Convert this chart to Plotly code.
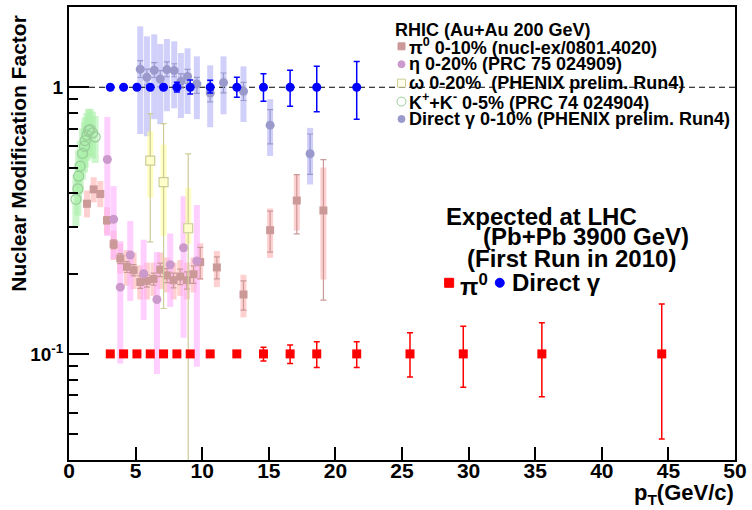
import plotly.graph_objects as go

X_RANGE = [0, 50]
Y_RANGE = [0.04, 2.0]
REF_LEVEL = 1.0

# ---------------- Expected at LHC ----------------
lhc_gamma_x = [3.1, 4.1, 5.1, 6.1, 7.1, 8.1, 9.1, 10.6, 12.6, 14.6, 16.6, 18.6, 21.6]
lhc_gamma_y = [1, 1, 1, 1, 1, 1, 1, 1, 1, 1, 1, 1, 1]
lhc_gamma_ep = [0, 0, 0, 0, 0, 0.044, 0.065, 0.062, 0.09, 0.125, 0.158, 0.2, 0.248]
lhc_gamma_em = [0, 0, 0, 0, 0, 0.04, 0.056, 0.048, 0.083, 0.114, 0.151, 0.19, 0.241]

lhc_pi0_x = [3.1, 4.1, 5.1, 6.1, 7.1, 8.1, 9.1, 10.6, 12.6, 14.6, 16.6, 18.6, 21.6, 25.6, 29.6, 35.5, 44.5]
lhc_pi0_y = [0.1] * 17
lhc_pi0_ep = [0, 0, 0, 0, 0, 0, 0, 0, 0, 0.006, 0.008, 0.011, 0.011, 0.02, 0.027, 0.031, 0.054]
lhc_pi0_em = [0, 0, 0, 0, 0, 0, 0, 0, 0, 0.006, 0.008, 0.011, 0.011, 0.018, 0.025, 0.031, 0.052]

# ---------------- RHIC pi0 0-10% ----------------
pi0_x = [1.35, 1.85, 2.35, 2.85, 3.35, 3.85, 4.35, 4.85, 5.35, 5.85, 6.35, 6.85, 7.35, 7.85,
         8.35, 8.85, 9.35, 9.85, 11.1, 13.1, 15.1, 17.1, 19.1]
pi0_y = [0.366, 0.414, 0.398, 0.317, 0.258, 0.228, 0.212, 0.206, 0.186, 0.188, 0.191, 0.207, 0.197, 0.189,
         0.195, 0.189, 0.199, 0.221, 0.211, 0.167, 0.291, 0.376, 0.345]
pi0_sys_hi = [0.41, 0.46, 0.445, 0.355, 0.29, 0.26, 0.245, 0.24, 0.215, 0.22, 0.22, 0.24, 0.23, 0.22,
              0.225, 0.22, 0.23, 0.26, 0.243, 0.198, 0.351, 0.47, 0.50]
pi0_sys_lo = [0.325, 0.37, 0.355, 0.28, 0.225, 0.2, 0.18, 0.175, 0.16, 0.16, 0.165, 0.175, 0.17, 0.16,
              0.165, 0.16, 0.17, 0.19, 0.178, 0.137, 0.229, 0.29, 0.19]
pi0_ep = [0.01, 0.01, 0.01, 0.01, 0.01, 0.01, 0.01, 0.01, 0.01, 0.01, 0.01, 0.012, 0.012, 0.012,
          0.013, 0.014, 0.015, 0.03, 0.02, 0.021, 0.052, 0.094, 0.19]
pi0_em = [0.01, 0.01, 0.01, 0.01, 0.01, 0.01, 0.01, 0.01, 0.01, 0.01, 0.01, 0.012, 0.012, 0.012,
          0.013, 0.014, 0.015, 0.03, 0.02, 0.021, 0.05, 0.094, 0.186]

# ---------------- RHIC eta 0-20% ----------------
eta_x = [2.88, 3.35, 3.85, 4.6, 5.6, 6.6, 7.6, 8.6, 9.6]
eta_y = [0.536, 0.320, 0.178, 0.235, 0.200, 0.160, 0.216, 0.250, 0.223]
eta_sys_hi = [0.774, 0.426, 0.265, 0.315, 0.268, 0.241, 0.283, 0.39, 0.362]
eta_sys_lo = [0.277, 0.227, 0.092, 0.158, 0.134, 0.084, 0.150, 0.115, 0.0894]

# ---------------- RHIC omega 0-20% ----------------
omega_x = [6.1, 7.1, 8.95]
omega_y = [0.531, 0.441, 0.296]
omega_ep = [0.266, 0.29, 0.267]
omega_em = [0.268, 0.293, 0.295]
omega_sys_hi = [0.684, 0.61, 0.42]
omega_sys_lo = [0.385, 0.277, 0.258]

# ---------------- RHIC K+ + K- 0-5% ----------------
k_x = [0.52, 0.67, 0.72, 0.84, 1.02, 1.17, 1.21, 1.34, 1.47, 1.59, 1.77, 1.96]
k_y = [0.380, 0.416, 0.464, 0.506, 0.565, 0.601, 0.631, 0.661, 0.689, 0.694, 0.674, 0.651]
k_sys_hi = [0.47, 0.52, 0.58, 0.63, 0.70, 0.74, 0.77, 0.80, 0.83, 0.83, 0.81, 0.78]
k_sys_lo = [0.30, 0.33, 0.37, 0.40, 0.45, 0.48, 0.50, 0.53, 0.55, 0.55, 0.54, 0.52]

# ---------------- RHIC direct gamma 0-10% ----------------
g_x = [5.35, 5.85, 6.4, 6.85, 7.35, 7.9, 8.4, 8.9, 9.6, 10.6, 11.6, 13.1, 15.1, 18.1]
g_y = [1.168, 1.090, 1.158, 1.074, 1.165, 1.155, 1.053, 1.097, 1.029, 0.952, 1.041, 0.966, 0.721, 0.563]
g_sys_hi = [1.692, 1.553, 1.58, 1.453, 1.517, 1.487, 1.344, 1.40, 1.306, 1.209, 1.306, 1.198, 0.902, 0.704]
g_sys_lo = [0.668, 0.655, 0.759, 0.727, 0.813, 0.834, 0.767, 0.794, 0.759, 0.708, 0.792, 0.741, 0.552, 0.432]
g_ep = [0.09, 0.08, 0.08, 0.08, 0.08, 0.07, 0.07, 0.07, 0.06, 0.05, 0.09, 0.078, 0.104, 0.105]
g_em = [0.08, 0.07, 0.07, 0.07, 0.07, 0.06, 0.06, 0.06, 0.08, 0.07, 0.089, 0.074, 0.108, 0.092]

X_TICKS = [0, 5, 10, 15, 20, 25, 30, 35, 40, 45, 50]
Y_TICKS = [0.1, 1]
Y_TICK_TEXT = ["10<sup>-1</sup>", "1"]
Y_MINOR = [0.04, 0.05, 0.06, 0.07, 0.08, 0.09, 0.2, 0.3, 0.4, 0.5, 0.6, 0.7, 0.8, 0.9, 2]

FONT = "Liberation Sans"

# colours
C_PI0 = "#cc9999"; C_PI0_SYS = "rgba(255,170,170,0.55)"
C_ETA = "#cc99cc"; C_ETA_SYS = "rgba(255,175,255,0.6)"
C_OM = "#cccc99"; C_OM_SYS = "rgba(255,255,150,0.6)"
C_K = "#99cc99"; C_K_SYS = "rgba(170,240,170,0.6)"
C_G = "#9999cc"; C_G_SYS = "rgba(170,170,245,0.55)"


def segs(xs, lo, hi):
    X, Y = [], []
    for x, l, h in zip(xs, lo, hi):
        X += [x, x, None]
        Y += [l, h, None]
    return X, Y


fig = go.Figure()

# systematic boxes
for xs, lo, hi, col, w in [
    (k_x, k_sys_lo, k_sys_hi, C_K_SYS, 7),
    (g_x, g_sys_lo, g_sys_hi, C_G_SYS, 6),
    (pi0_x, pi0_sys_lo, pi0_sys_hi, C_PI0_SYS, 6),
    (eta_x, eta_sys_lo, eta_sys_hi, C_ETA_SYS, 6),
    (omega_x, omega_sys_lo, omega_sys_hi, C_OM_SYS, 6),
]:
    X, Y = segs(xs, lo, hi)
    fig.add_trace(go.Scatter(x=X, y=Y, mode="lines", line=dict(color=col, width=w),
                             hoverinfo="skip", showlegend=False))

# reference dashed line
fig.add_trace(go.Scatter(x=X_RANGE, y=[REF_LEVEL, REF_LEVEL], mode="lines",
                         line=dict(color="black", width=1.2, dash="6px,4px"),
                         hoverinfo="skip", showlegend=False))

# RHIC markers
fig.add_trace(go.Scatter(x=k_x, y=k_y, mode="markers",
                         marker=dict(symbol="circle-open", size=10, color=C_K, line=dict(width=1.2)),
                         showlegend=False))
fig.add_trace(go.Scatter(x=g_x, y=g_y, mode="markers",
                         error_y=dict(type="data", array=g_ep, arrayminus=g_em, color=C_G, thickness=1.2, width=3),
                         marker=dict(symbol="circle", size=9, color=C_G), showlegend=False))
fig.add_trace(go.Scatter(x=pi0_x, y=pi0_y, mode="markers",
                         error_y=dict(type="data", array=pi0_ep, arrayminus=pi0_em, color=C_PI0, thickness=1.2, width=3),
                         marker=dict(symbol="square", size=8, color=C_PI0), showlegend=False))
fig.add_trace(go.Scatter(x=eta_x, y=eta_y, mode="markers",
                         marker=dict(symbol="circle", size=9, color=C_ETA), showlegend=False))
fig.add_trace(go.Scatter(x=omega_x, y=omega_y, mode="markers",
                         error_y=dict(type="data", array=omega_ep, arrayminus=omega_em, color=C_OM, thickness=1.2, width=3),
                         marker=dict(symbol="square", size=9, color="#ffffcc", line=dict(color=C_OM, width=1.2)),
                         showlegend=False))

# LHC expectations
fig.add_trace(go.Scatter(x=lhc_gamma_x, y=lhc_gamma_y, mode="markers",
                         error_y=dict(type="data", array=lhc_gamma_ep, arrayminus=lhc_gamma_em, color="#0000ff", thickness=1.5, width=3),
                         marker=dict(symbol="circle", size=9, color="#0000ff"), showlegend=False))
fig.add_trace(go.Scatter(x=lhc_pi0_x, y=lhc_pi0_y, mode="markers",
                         error_y=dict(type="data", array=lhc_pi0_ep, arrayminus=lhc_pi0_em, color="#ff0000", thickness=1.5, width=3),
                         marker=dict(symbol="square", size=9, color="#ff0000"), showlegend=False))

W, H = 752, 510
L, R, T, B = 69, 12, 5, 50
PW, PH = W - L - R, H - T - B


def px(x):
    return (x - L) / PW


def py(y):
    return (H - B - y) / PH


annots = []


def txt(s, x, y, size, xanchor="left", color="black", angle=0):
    annots.append(dict(text=s, x=px(x), y=py(y), xref="paper", yref="paper", showarrow=False,
                       xanchor=xanchor, yanchor="middle", textangle=angle,
                       font=dict(family=FONT, size=size, color=color, weight="bold")))


# RHIC legend
LEG = 18
txt("RHIC (Au+Au 200 GeV)", 395, 28, LEG)
rows = [
    ("π<sup>0</sup> 0-10% (nucl-ex/0801.4020)", 44.5),
    ("η 0-20% (PRC 75 024909)", 62.5),
    ("ω 0-20%  (PHENIX prelim. Run4)", 81.5),
    ("K<sup>+</sup>+K<sup>-</sup> 0-5% (PRC 74 024904)", 100),
    ("Direct γ 0-10% (PHENIX prelim. Run4)", 117.5),
]
for s, yy in rows:
    txt(s, 410, yy, LEG)

shapes = []


def key(kind, x, y, r, fill, line):
    shapes.append(dict(type=kind, xref="paper", yref="paper", xsizemode="pixel", ysizemode="pixel",
                       xanchor=px(x), yanchor=py(y), x0=-r, x1=r, y0=-r, y1=r,
                       fillcolor=fill, line=dict(color=line, width=1)))


key("rect", 404, 44.5, 3.5, C_PI0, C_PI0)
key("circle", 404, 62.5, 3.5, C_ETA, C_ETA)
key("rect", 404, 81.5, 4, "#ffffee", C_OM)
key("circle", 404, 100, 4.5, "rgba(0,0,0,0)", C_K)
key("circle", 404, 117.5, 3.5, C_G, C_G)

# Expected at LHC block
BIG = 24
txt("Expected at LHC", 447, 215, BIG)
txt("(Pb+Pb 3900 GeV)", 484, 236, BIG)
txt("(First Run in 2010)", 468, 258, BIG)
key("rect", 452, 282, 4.5, "#ff0000", "#ff0000")
txt("π<sup>0</sup>", 461, 284, 24)
key("circle", 503, 282, 4.5, "#0000ff", "#0000ff")
txt("Direct γ", 513, 282, 24)

# axis titles
txt("Nuclear Modification Factor", 18, 152, 21, xanchor="center", angle=-90)
txt("p<sub>T</sub>(GeV/c)", 741, 494, 22, xanchor="right")

fig.update_layout(
    width=W, height=H,
    margin=dict(l=L, r=R, t=T, b=B, pad=0),
    paper_bgcolor="white", plot_bgcolor="white",
    annotations=annots, shapes=shapes,
    showlegend=False,
    font=dict(family=FONT),
    xaxis=dict(range=X_RANGE, tickvals=X_TICKS,
               ticks="inside", ticklen=13, tickwidth=1.5, tickcolor="black",
               ticklabelstandoff=-9,
               showline=True, linecolor="black", linewidth=2, mirror=True,
               showgrid=False, zeroline=False,
               tickfont=dict(family=FONT, size=21, color="black", weight="bold")),
    yaxis=dict(type="log", range=[-1.39794, 0.30103],
               tickvals=Y_TICKS, ticktext=Y_TICK_TEXT,
               ticks="inside", ticklen=20, tickwidth=1.5, tickcolor="black",
               minor=dict(tickvals=Y_MINOR,
                          ticks="inside", ticklen=9, tickwidth=1.5, tickcolor="black", showgrid=False),
               showline=True, linecolor="black", linewidth=2, mirror=True,
               showgrid=False, zeroline=False,
               tickfont=dict(family=FONT, size=19, color="black", weight="bold")),
)

fig.write_html("out.html")
